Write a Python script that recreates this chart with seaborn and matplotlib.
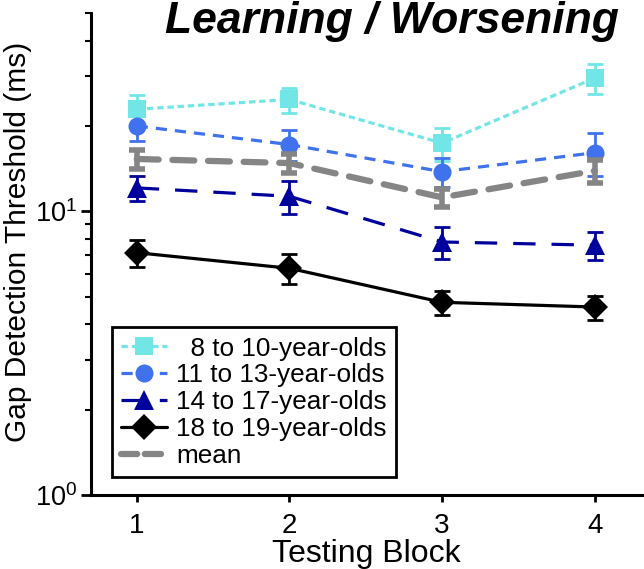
import numpy as np
import matplotlib
matplotlib.use("Agg")
import matplotlib.pyplot as plt
import seaborn as sns
from matplotlib.lines import Line2D
from matplotlib.ticker import LogLocator, NullFormatter

# data
blocks = [1, 2, 3, 4]
labels = ["  8 to 10-year-olds", "11 to 13-year-olds", "14 to 17-year-olds", "18 to 19-year-olds"]
g8_10 = [22.9, 24.8, 17.4, 29.5]
g8_10_err = [2.8, 2.5, 2.3, 3.5]
g11_13 = [20.0, 17.2, 13.8, 16.1]
g11_13_err = [2.3, 2.2, 1.6, 2.8]
g14_17 = [12.1, 11.3, 7.8, 7.6]
g14_17_err = [1.25, 1.5, 1.0, 0.85]
g18_19 = [7.15, 6.3, 4.78, 4.6]
g18_19_err = [0.8, 0.75, 0.48, 0.45]
mean_vals = [15.3, 14.8, 11.2, 13.9]
mean_err = [1.2, 1.1, 0.8, 1.3]

sns.set_style("ticks")
plt.rcParams["font.family"] = ["Liberation Sans", "DejaVu Sans"]
plt.rcParams.update({"text.color": "black", "axes.labelcolor": "black",
                     "xtick.color": "black", "ytick.color": "black",
                     "axes.edgecolor": "black"})

fig = plt.figure(figsize=(6.44, 5.69), dpi=100)
ax = fig.add_axes([0.1413, 0.130, 0.8556, 0.847])

# (values, errors, colour, marker, markersize, dash pattern)
groups = [
    (g8_10, g8_10_err, "#72e6e6", "s", 13, (0, (2.0, 1.2))),
    (g11_13, g11_13_err, "#3f72ec", "o", 13, (0, (3.5, 2.5))),
    (g14_17, g14_17_err, "#00009c", "^", 15, (0, (7, 5))),
    (g18_19, g18_19_err, "black", "D", 13.5, "-"),
]

handles = []
for (vals, err, col, mk, ms, ls), lab in zip(groups, labels):
    ax.errorbar(blocks, vals, yerr=err, fmt="none", ecolor=col, elinewidth=2,
                capsize=6, capthick=2, zorder=2)
    sns.lineplot(x=blocks, y=vals, ax=ax, color=col, marker=mk, markersize=ms,
                 markeredgewidth=0, linewidth=2.3, linestyle=ls, zorder=3)
    handles.append(Line2D([], [], color=col, marker=mk, markersize=ms,
                          markeredgewidth=0, linewidth=2.3, linestyle=ls))

ax.errorbar(blocks, mean_vals, yerr=mean_err, fmt="none", ecolor="#858585",
            elinewidth=4, capsize=6, capthick=4, zorder=4)
sns.lineplot(x=blocks, y=mean_vals, ax=ax, color="#858585", linewidth=4.5,
             linestyle=(0, (3.5, 2.2)), dash_capstyle="round", zorder=4)
handles.append(Line2D([], [], color="#858585", linewidth=4.5,
                      linestyle=(0, (2.6, 1.2)), dash_capstyle="round"))

ax.set_yscale("log")
ax.set_ylim(1, 50)
ax.set_xlim(0.7, 4.31)
ax.set_xticks(blocks)
ax.yaxis.set_major_locator(LogLocator(base=10, numticks=5))
ax.yaxis.set_minor_locator(LogLocator(base=10, subs=np.arange(2, 10), numticks=20))
ax.yaxis.set_minor_formatter(NullFormatter())
ax.tick_params(axis="x", which="major", labelsize=20, width=2, length=5, direction="out", pad=8)
ax.tick_params(axis="y", which="major", labelsize=19.5, width=2, length=7, direction="out", pad=3)
ax.tick_params(axis="y", which="minor", width=1.5, length=4, direction="out")
for s in ["left", "bottom"]:
    ax.spines[s].set_linewidth(2.2)
sns.despine(ax=ax)

ax.set_xlabel("Testing Block", fontsize=23, labelpad=0)
ax.set_ylabel("Gap Detection Threshold (ms)", fontsize=21.5)
ax.yaxis.set_label_coords(-0.107, 0.525)

leg = ax.legend(handles, labels + ["mean"], loc="lower left", bbox_to_anchor=(0.038, 0.037),
                borderaxespad=0, fontsize=18.8, handlelength=1.75, handletextpad=0.35,
                labelspacing=0.11, borderpad=0.35, frameon=True, fancybox=False,
                framealpha=1)
leg.get_frame().set_edgecolor("black")
leg.get_frame().set_linewidth(2)

fig.text(0.609, 0.998, "Learning / Worsening", fontsize=32, fontweight="bold",
         fontstyle="italic", ha="center", va="top")

fig.savefig("out.png", dpi=100)
